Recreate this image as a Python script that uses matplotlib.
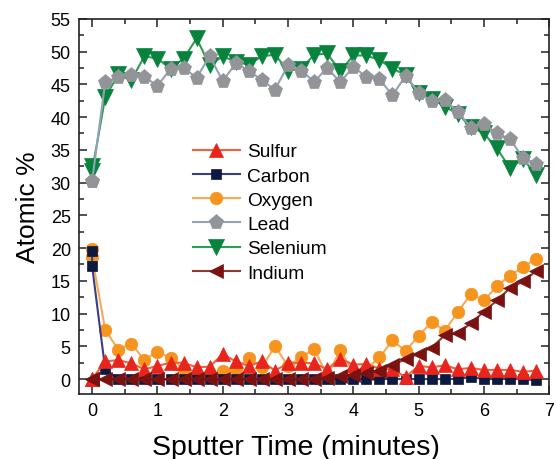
import matplotlib
matplotlib.use("Agg")
import matplotlib.pyplot as plt
from matplotlib.ticker import MultipleLocator

plt.rcParams['font.family'] = ['Liberation Sans', 'DejaVu Sans']

time = [0, 0, 0.2, 0.4, 0.6, 0.8, 1.0, 1.2, 1.4, 1.6, 1.8, 2.0, 2.2, 2.4, 2.6, 2.8,
        3.0, 3.2, 3.4, 3.6, 3.8, 4.0, 4.2, 4.4, 4.6, 4.8, 5.0, 5.2, 5.4, 5.6, 5.8,
        6.0, 6.2, 6.4, 6.6, 6.8]

sulfur = [0, 0, 2.7, 2.9, 2.4, 1.5, 2.0, 2.5, 2.5, 1.8, 1.9, 3.8, 2.7, 2.0, 2.7, 1.3,
          2.4, 2.5, 2.4, 1.5, 3.1, 2.2, 2.3, 1.6, 1.5, 0.3, 2.0, 1.8, 2.1, 1.5, 1.7,
          1.4, 1.4, 1.4, 1.1, 1.3]
carbon = [19.6, 17.2, 1.5, 0, 0, 0, 0, 0, 0, 0, 0, 0, 0, 0, 0, 0,
          0, 0, 0, 0, 0, 0, 0, 0, 0, 0, 0, 0, 0, 0, 0.3,
          0, 0, 0, 0, -0.2]
oxygen = [19.9, 18.6, 7.5, 4.5, 5.4, 2.9, 4.2, 3.2, 1.5, 0.3, 0.8, 1.2, 1.5, 3.2, 1.8, 5.0,
          2.0, 3.3, 4.6, 0.5, 4.4, 1.0, 1.5, 3.3, 5.9, 4.3, 6.6, 8.7, 7.4, 10.2, 13.0,
          12.0, 14.2, 15.8, 17.1, 18.4]
lead = [30.3, 30.3, 45.3, 46.1, 46.4, 46.1, 44.8, 47.3, 47.5, 46.0, 49.3, 45.5, 48.2, 47.1, 45.6, 44.2,
        47.9, 47.1, 45.4, 47.5, 45.3, 47.7, 46.1, 45.8, 43.3, 46.3, 43.7, 42.4, 42.6, 40.8, 38.4,
        39.0, 37.5, 36.6, 33.8, 32.9]
selenium = [32.6, 31.8, 43.0, 46.5, 45.6, 49.3, 48.9, 47.4, 48.9, 52.0, 47.9, 49.3, 48.4, 48.0, 49.3, 49.5,
            47.1, 47.4, 49.5, 49.7, 47.0, 49.4, 49.4, 48.7, 47.4, 46.4, 43.6, 42.8, 41.6, 40.5, 38.5,
            37.5, 35.2, 32.2, 33.6, 31.2]
indium = [0, 0, 0, 0, 0, 0, 0, 0, 0, 0, 0, 0, 0, 0, 0, 0,
          0, 0, 0, 0.1, 0.5, 0.6, 0.9, 1.3, 2.2, 3.0, 3.9, 4.8, 6.7, 7.0, 8.5,
          10.3, 12.0, 13.9, 14.9, 16.5]

labels = ["Sulfur", "Carbon", "Oxygen", "Lead", "Selenium", "Indium"]
xticks = [0, 1, 2, 3, 4, 5, 6, 7]
yticks = [0, 5, 10, 15, 20, 25, 30, 35, 40, 45, 50, 55]

fig = plt.figure(figsize=(5.57, 4.60), dpi=100)
ax = fig.add_axes([0.142, 0.141, 0.844, 0.816])

styles = [
    # data, marker, marker color, line color, size, zorder
    (sulfur, '^', '#E8251C', '#F2603C', 10, 4),
    (carbon, 's', '#0C1940', '#3B3F80', 7.5, 3),
    (oxygen, 'o', '#F7941D', '#F9A95A', 9.0, 2.5),
    (lead, 'p', '#929497', '#93A3B3', 11, 3.5),
    (selenium, 'v', '#07833E', '#2E9E50', 11, 3),
    (indium, '<', '#7A1212', '#8E3A30', 10, 5),
]
for (data, mk, mc, lc, ms, z), lab in zip(styles, labels):
    ax.plot(time, data, color=lc, lw=1.5, marker=mk, ms=ms,
            markerfacecolor=mc, markeredgecolor=mc, markeredgewidth=0.5,
            label=lab, zorder=z)

ax.set_xlim(-0.2, 6.92)
ax.set_ylim(-2.3, 55)
ax.set_xticks(xticks)
ax.set_yticks(yticks)
ax.xaxis.set_minor_locator(MultipleLocator(0.5))
ax.yaxis.set_minor_locator(MultipleLocator(2.5))
ax.tick_params(which='both', direction='in', top=True, right=True,
               labeltop=False, labelright=False, width=1.1, color='#222222')
ax.tick_params(which='major', length=5.5, labelsize=13, pad=6)
ax.tick_params(which='minor', length=3.5)
for sp in ax.spines.values():
    sp.set_linewidth(1.2)
    sp.set_color('#222222')

ax.set_xlabel("Sputter Time (minutes)", fontsize=20.5, labelpad=4)
ax.xaxis.set_label_coords(0.462, -0.105)
ax.set_ylabel("Atomic %", fontsize=19, labelpad=8)

leg = ax.legend(loc='upper left', bbox_to_anchor=(0.225, 0.69), frameon=False,
                fontsize=13.8, numpoints=1, handlelength=2.5, handletextpad=0.35,
                labelspacing=0.36, borderaxespad=0)

fig.savefig("out.png", dpi=100)
